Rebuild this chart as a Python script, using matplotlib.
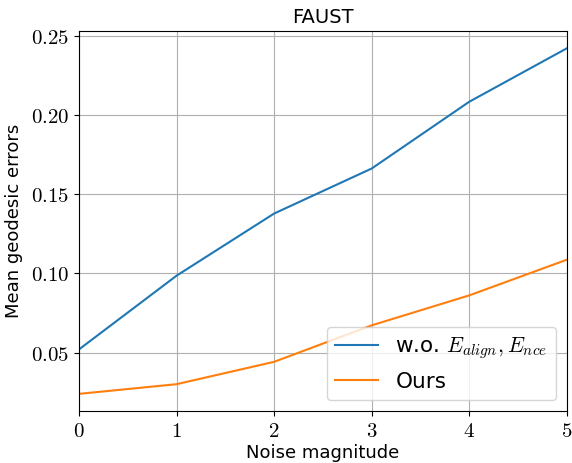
import matplotlib
matplotlib.use("Agg")
import matplotlib.pyplot as plt
from matplotlib.ticker import FuncFormatter, MultipleLocator

noise = [0, 1, 2, 3, 4, 5]
wo_align_nce = [0.0521, 0.0986, 0.1378, 0.1662, 0.2083, 0.2420]
ours = [0.0241, 0.0302, 0.0443, 0.0673, 0.0862, 0.1087]

plt.rcParams['mathtext.fontset'] = 'cm'
plt.rcParams['font.family'] = ['DejaVu Sans']

fig = plt.figure(figsize=(5.72, 4.63), dpi=100)
ax = fig.add_axes([0.138, 0.112, 0.853, 0.821])
ax.plot(noise, wo_align_nce, color='#1f77b4', lw=1.5, label=r'w.o. $E_{align}, E_{nce}$')
ax.plot(noise, ours, color='#ff7f0e', lw=1.5, label='Ours')
ax.set_xlim(0, 5)
ax.xaxis.set_major_locator(MultipleLocator(1))
ax.yaxis.set_major_locator(MultipleLocator(0.05))
ax.xaxis.set_major_formatter(FuncFormatter(lambda v, p: rf'${v:.0f}$'))
ax.yaxis.set_major_formatter(FuncFormatter(lambda v, p: rf'${v:.2f}$'))
ax.tick_params(labelsize=15)
ax.grid(True, color='#b0b0b0', lw=0.8)
ax.set_axisbelow(True)
ax.set_title('FAUST', fontsize=14)
ax.set_xlabel('Noise magnitude', fontsize=13, labelpad=2)
ax.set_ylabel('Mean geodesic errors', fontsize=13, labelpad=6)
ax.legend(loc='lower right', fontsize=15.5, borderaxespad=0.5)
fig.savefig('out.png', dpi=100)
